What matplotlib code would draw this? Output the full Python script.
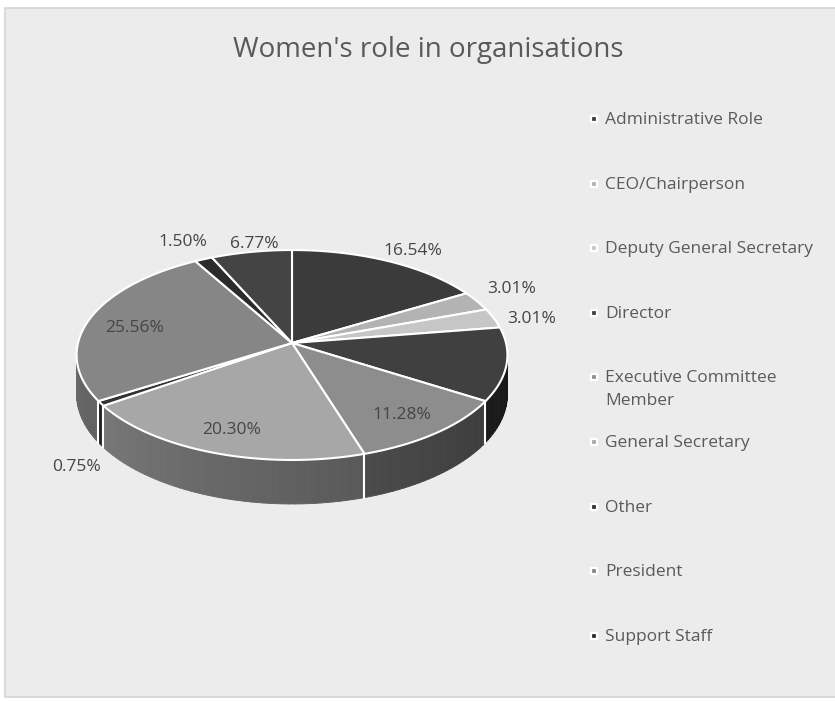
import numpy as np
import matplotlib.pyplot as plt
from matplotlib.patches import Rectangle, Polygon
from matplotlib.collections import PolyCollection
from matplotlib.colors import to_rgb

plt.rcParams['font.family'] = ['Open Sans', 'DejaVu Sans']

# shares of each role, clockwise from 12 o'clock
roles = ["Administrative Role", "CEO/Chairperson", "Deputy General Secretary",
         "Director", "Executive Committee\nMember", "General Secretary",
         "Other", "President", "Support Staff", "Unlisted role"]
shares = [16.54, 3.01, 3.01, 11.28, 11.28, 20.30, 0.75, 25.56, 1.50, 6.77]
in_legend = [True] * 9 + [False]
show_value = [True, True, True, False, True, True, True, True, True, True]

slice_colors = ['#3b3b3b', '#b3b3b3', '#c6c6c6', '#404040', '#8d8d8d',
                '#a7a7a7', '#333333', '#868686', '#2b2b2b', '#444444']

# label placement: radius (1 = rim) and angular nudge in degrees
label_r = [1.17, 1.225, 1.176, 0.0, 0.80, 0.808, 1.174, 0.76, 1.238, 1.092]
label_nudge = [2.7, -1.9, 2.5, 0.0, 1.4, -0.5, -4.8, -3.1, -0.5, 1.7]

W, H = 835, 701

# perspective view of the pie disc (pixel units)
CX, CY = 292, 343          # apex of the top face
RX, RY = 214, 103.6        # disc radii on screen
K = 0.1143                 # foreshortening of the far side
HGT = 39                   # wall height


def project(u, v, z=0.0):
    s = 1.0 / (1.0 + K * v)
    return CX + RX * u * s, CY - (RY * v + HGT * z) * s


def rim(t):
    r = np.radians(t)
    return np.sin(r), np.cos(r)


fig = plt.figure(figsize=(W / 100, H / 100), dpi=100)
fig.patch.set_facecolor('white')

ax = fig.add_axes([0, 0, 1, 1])
ax.set_xlim(0, W)
ax.set_ylim(H, 0)
ax.axis('off')
ax.add_patch(Rectangle((5, 8), W - 4, H - 12, facecolor='#ececec',
                       edgecolor='#d4d4d4', linewidth=1.2, zorder=0))
ax.text(428, 50, "Women's role in organisations", ha='center', va='center',
        fontsize=20, color='#595959')

# legend
leg_idx = [i for i in range(len(roles)) if in_legend[i]]
for row, i in enumerate(leg_idx):
    y = 119 + 64.6 * row
    ax.scatter([594], [y], marker='s', s=22, color=slice_colors[i],
               edgecolors='white', linewidths=1.6, zorder=3)
    ax.text(605, y - 7, roles[i], ha='left', va='top', fontsize=12.5,
            color='#5a5a5a', linespacing=1.55)

frac = np.array(shares) / sum(shares)
ends = np.cumsum(frac) * 360
starts = ends - frac * 360

# front wall, shaded darker towards the right
vis_lo = np.degrees(np.arccos(-K))
vis_hi = 360 - vis_lo
polys, fills = [], []
for i, (a0, a1) in enumerate(zip(starts, ends)):
    lo, hi = max(a0, vis_lo), min(a1, vis_hi)
    if hi <= lo:
        continue
    th = np.linspace(lo, hi, max(2, int((hi - lo) / 1.5) + 1))
    base = np.array(to_rgb(slice_colors[i]))
    for t0, t1 in zip(th[:-1], th[1:]):
        u0, v0 = rim(t0)
        u1, v1 = rim(t1)
        polys.append([project(u0, v0), project(u1, v1),
                      project(u1, v1, -1), project(u0, v0, -1)])
        shade = 0.35 + 0.45 * ((t0 + t1) / 2 - 90) / 180
        fills.append(tuple(base * shade))
ax.add_collection(PolyCollection(polys, facecolors=fills, edgecolors=fills,
                                 linewidths=0.6, zorder=1))

# white seams where slices meet on the wall
for a in starts:
    if vis_lo < a < vis_hi:
        u, v = rim(a)
        (x0, y0), (x1, y1) = project(u, v), project(u, v, -1)
        ax.plot([x0, x1], [y0, y1], color='white', lw=1.5, zorder=2)

# top face
for i, (a0, a1) in enumerate(zip(starts, ends)):
    th = np.linspace(a0, a1, max(3, int((a1 - a0) / 1.0) + 2))
    pts = [project(0, 0)] + [project(*rim(t)) for t in th]
    ax.add_patch(Polygon(pts, closed=True, facecolor=slice_colors[i],
                         edgecolor='white', linewidth=1.5,
                         joinstyle='round', zorder=3))

# value labels
for i in range(len(shares)):
    if not show_value[i]:
        continue
    t = (starts[i] + ends[i]) / 2 + label_nudge[i]
    u, v = rim(t)
    u, v = label_r[i] * u, label_r[i] * v
    z = -1 if (label_r[i] > 1 and v < 0) else 0
    x, y = project(u, v, z)
    ax.text(x, y, f"{shares[i]:.2f}%", ha='center', va='center',
            fontsize=12.5, color='#454545', zorder=5)

fig.savefig('out.png', dpi=100, facecolor='white')
